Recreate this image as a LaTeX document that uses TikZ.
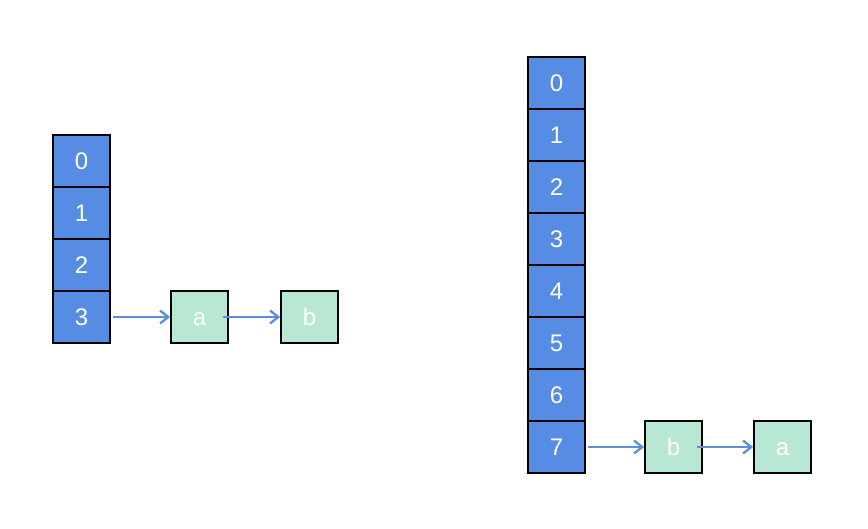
\documentclass[tikz,border=0pt]{standalone}
\usepackage{fontspec}
\setmainfont{Liberation Sans}
\usetikzlibrary{positioning,arrows.meta}
\definecolor{slotblue}{RGB}{86,140,228}
\definecolor{itemgreen}{RGB}{184,232,212}
\definecolor{linkblue}{RGB}{92,142,220}

\begin{document}
\begin{tikzpicture}[node distance=1.56cm,on grid,
	slot/.style={draw=black,line width=1.4pt,fill=slotblue,text=white,minimum width=1.71cm,minimum height=1.56cm,inner sep=0pt,text height=14.5pt,text depth=0pt,font=\fontsize{20.5}{22}\selectfont},
	item/.style={slot,fill=itemgreen},
	link/.style={-{Straight Barb[length=7pt,width=11pt]},draw=linkblue,line width=2pt}]
		\useasboundingbox (0,0) rectangle (26.04,-15.84);
		% old table, 4 slots
		\node[slot] (l0) at (2.445,-4.83) {0};
		\node[slot] (l1) [below=of l0] {1};
		\node[slot] (l2) [below=of l1] {2};
		\node[slot] (l3) [below=of l2] {3};
		\node[item] (la) [right=3.54cm of l3] {a};
		\node[item] (lb) [right=3.3cm of la] {b};

		% resized table, 8 slots
		\node[slot] (r0) at (16.695,-2.49) {0};
		\node[slot] (r1) [below=of r0] {1};
		\node[slot] (r2) [below=of r1] {2};
		\node[slot] (r3) [below=of r2] {3};
		\node[slot] (r4) [below=of r3] {4};
		\node[slot] (r5) [below=of r4] {5};
		\node[slot] (r6) [below=of r5] {6};
		\node[slot] (r7) [below=of r6] {7};
		\node[item] (rb) [right=3.51cm of r7] {b};
		\node[item] (ra) [right=3.27cm of rb] {a};

		\path (l3) edge[link,shorten <=2pt] (la);
		\path (la.east) edge[link,shorten <=-0.18cm] (lb);
		\path (r7) edge[link,shorten <=2pt] (rb);
		\path (rb.east) edge[link,shorten <=-0.18cm] (ra);
	\end{tikzpicture}
\end{document}
